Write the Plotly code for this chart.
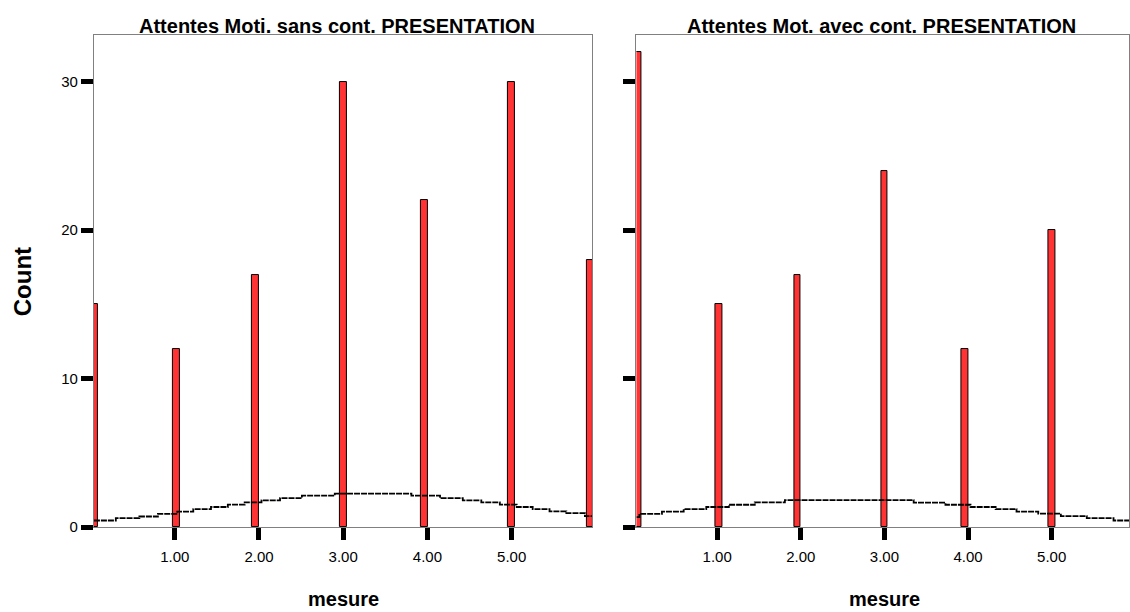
import plotly.graph_objects as go

# ---- data ----
values = [0, 1, 2, 3, 4, 5, 6]
left_counts = [15, 12, 17, 30, 22, 30, 18]
right_values = [0, 1, 2, 3, 4, 5]
right_counts = [32, 15, 17, 24, 12, 20]

left_title = "Attentes Moti. sans cont. PRESENTATION"
right_title = "Attentes Mot. avec cont. PRESENTATION"

tick_vals = [1, 2, 3, 4, 5]
tick_text = ["1.00", "2.00", "3.00", "4.00", "5.00"]
y_tick_vals = [0, 10, 20, 30]

# normal curve (step outline)
left_curve_x = [0.04, 0.30, 0.58, 0.80, 1.03, 1.22, 1.43, 1.63, 1.83, 2.03, 2.25, 2.51,
                2.90, 3.81, 4.15, 4.42, 4.64, 4.86, 5.06, 5.25, 5.45, 5.65, 5.87, 5.96]
left_curve_y = [0.44, 0.60, 0.71, 0.89, 1.04, 1.20, 1.35, 1.51, 1.66, 1.80, 1.95, 2.11,
                2.25, 2.11, 1.95, 1.80, 1.66, 1.51, 1.35, 1.20, 1.06, 0.93, 0.73, 0.73]
right_curve_x = [0.035, 0.07, 0.34, 0.60, 0.87, 1.14, 1.45, 1.81, 3.35, 3.73, 4.03, 4.33,
                 4.58, 4.84, 5.11, 5.42, 5.74, 5.925]
right_curve_y = [0.67, 0.89, 1.04, 1.20, 1.35, 1.50, 1.66, 1.81, 1.64, 1.50, 1.35, 1.20,
                 1.04, 0.90, 0.73, 0.60, 0.44, 0.44]

# ---- styling / geometry ----
W, H = 1130, 612
BAR_W = 0.08
left_offsets = [0.01, -0.02, -0.08, -0.04, -0.08, -0.04, -0.11]
right_offsets = [0.01, -0.02, -0.08, -0.04, -0.08, -0.04]
RED = "rgb(255,51,51)"
FONT = "Liberation Sans, Arial, Helvetica, sans-serif"
CURVE = dict(color="black", width=1.8, shape="hv", dash="6px,1px")

fig = go.Figure()

fig.add_trace(go.Bar(x=values, y=left_counts, width=BAR_W, offset=left_offsets,
                     marker=dict(color=RED, line=dict(color="black", width=1)),
                     xaxis="x", yaxis="y", showlegend=False))
fig.add_trace(go.Scatter(x=left_curve_x, y=left_curve_y, mode="lines", line=CURVE,
                         xaxis="x", yaxis="y", showlegend=False))
fig.add_trace(go.Bar(x=right_values, y=right_counts, width=BAR_W, offset=right_offsets,
                     marker=dict(color=RED, line=dict(color="black", width=1)),
                     xaxis="x2", yaxis="y2", showlegend=False))
fig.add_trace(go.Scatter(x=right_curve_x, y=right_curve_y, mode="lines", line=CURVE,
                         xaxis="x2", yaxis="y2", showlegend=False))

x_left = (94 / W, 593 / W)
x_right = (637 / W, 1.0)
y_dom = ((H - 534) / H, (H - 35.5) / H)

common_x = dict(showline=True, mirror=True, linecolor="#808080", linewidth=1,
                ticks="outside", ticklen=12, tickwidth=5, tickcolor="black",
                tickvals=tick_vals, ticktext=tick_text, showgrid=False, zeroline=False,
                ticklabelstandoff=4,
                tickfont=dict(family=FONT, size=15, color="black"))
common_y = dict(showline=True, mirror=True, linecolor="#808080", linewidth=1,
                ticks="outside", ticklen=12, tickwidth=5, tickcolor="black",
                tickvals=y_tick_vals, showgrid=False, zeroline=False,
                range=[0, 33.15], domain=list(y_dom),
                tickfont=dict(family=FONT, size=15, color="black"))

fig.update_layout(
    width=W, height=H, margin=dict(l=0, r=0, t=0, b=0),
    paper_bgcolor="white", plot_bgcolor="white", bargap=0,
    xaxis=dict(common_x, domain=list(x_left), range=[0.04, 5.96], anchor="y"),
    yaxis=dict(common_y, anchor="x"),
    xaxis2=dict(common_x, domain=list(x_right), range=[0.035, 5.925], anchor="y2"),
    yaxis2=dict(common_y, anchor="x2", showticklabels=False),
    font=dict(family=FONT, color="black"),
)


def note(text, xpx, ypx, size, angle=0):
    fig.add_annotation(text="<b>" + text + "</b>", x=xpx / W, y=(H - ypx) / H,
                       xref="paper", yref="paper", showarrow=False,
                       xanchor="center", yanchor="middle", textangle=angle,
                       font=dict(family=FONT, size=size, color="black"))


left_cx = (94 + 593) / 2
right_cx = (637 + 1133) / 2
note(left_title, left_cx - 6, 26, 20)
note(right_title, right_cx - 3, 26, 20)
note("mesure", left_cx, 607, 20)
note("mesure", right_cx, 607, 20)
note("Count", 22, 285, 24, angle=-90)

fig.write_html("out.html")
